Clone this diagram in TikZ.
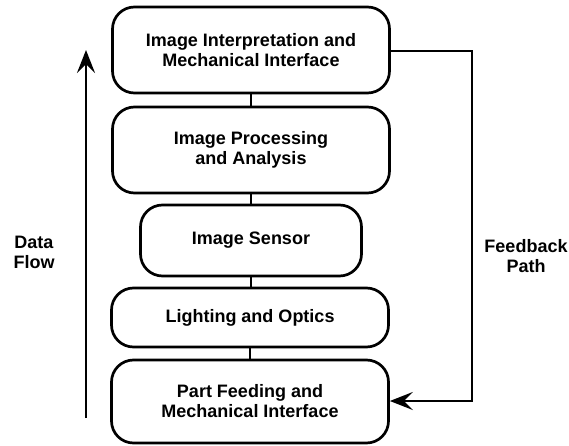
\documentclass[tikz,border=0pt]{standalone}
\usepackage{fontspec}
\setmainfont{Liberation Sans}
\usetikzlibrary{arrows.meta}
\begin{document}
\begin{tikzpicture}[x=1pt,y=-1pt,
  stage/.style={draw=black, line width=2.7pt, rounded corners=22pt,
    minimum width=277pt, align=center, inner sep=0pt,
    font=\fontsize{18}{20}\selectfont\bfseries},
  link/.style={line width=2.2pt},
  tip/.style={-{Stealth[length=23pt,width=18pt,inset=9pt]}},
  side/.style={align=center, font=\fontsize{18}{20}\selectfont\bfseries}]
\useasboundingbox (0,0) rectangle (569,446);
% stages of the vision system, top to bottom
\node[stage, minimum height=86pt] (interp) at (251,50) {Image Interpretation and\\Mechanical Interface};
\node[stage, minimum height=86pt] (proc) at (251,150) {Image Processing\\and Analysis};
\node[stage, minimum width=221pt, minimum height=71pt] (sensor) at (251,240.5) {Image Sensor};
\node[stage, minimum height=59pt] (light) at (250,317.5) {Lighting and Optics};
\node[stage, minimum height=83pt] (feed) at (250,401.5) {Part Feeding and\\Mechanical Interface};
% links between stages
\draw[link] (interp.south) -- (proc.north);
\draw[link] (proc.south) -- (proc.south |- sensor.north);
\draw[link] (sensor.south) -- (sensor.south |- light.north);
\draw[link] (light.south) -- (light.south |- feed.north);
% feedback loop
\coordinate (fbtop) at (472,51);
\coordinate (fbbot) at (472,401);
\draw[line width=2.5pt, tip]
  (interp.east |- fbtop) -- (fbtop) -- (fbbot) -- (feed.east |- fbbot);
% data flow arrow
\coordinate (dfbot) at (86,418);
\coordinate (dftop) at (86,50);
\draw[line width=2.5pt, tip] (dfbot) -- (dftop);
% side labels
\node[side] (dflabel) at (34,252) {Data\\Flow};
\node[side] (fblabel) at (526,256) {Feedback\\Path};
\end{tikzpicture}
\end{document}
